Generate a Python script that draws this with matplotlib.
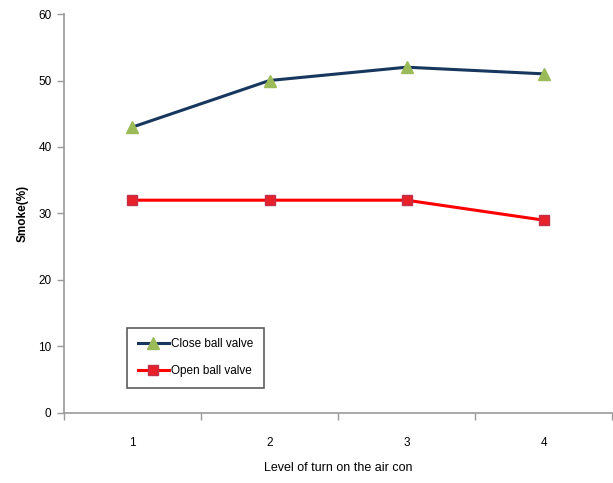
import matplotlib
matplotlib.use("Agg")
import matplotlib.pyplot as plt
from matplotlib.ticker import FixedLocator

levels = [1, 2, 3, 4]
level_labels = ["1", "2", "3", "4"]
close_valve = [43, 50, 52, 51]
open_valve = [32, 32, 32, 29]
y_ticks = [0, 10, 20, 30, 40, 50, 60]

plt.rcParams["font.family"] = ["Liberation Sans", "DejaVu Sans"]

fig = plt.figure(figsize=(6.13, 4.83), dpi=100)
ax = fig.add_axes([0.1044, 0.145, 0.894, 0.826])

ax.plot(levels, close_valve, color="#17375E", lw=2.2, marker="^", ms=8,
        markerfacecolor="#9BBB59", markeredgecolor="#9BBB59", label="Close ball valve", zorder=3)
ax.plot(levels, open_valve, color="#FF0000", lw=2.2, marker="s", ms=7,
        markerfacecolor="#E8202A", markeredgecolor="#C0304A", label="Open ball valve", zorder=3)

ax.set_xlim(0.5, 4.5)
ax.set_ylim(0, 60)
ax.set_yticks(y_ticks)
ax.set_xticks(levels)
ax.set_xticklabels(level_labels)
ax.xaxis.set_minor_locator(FixedLocator([0.5, 1.5, 2.5, 3.5, 4.5]))
ax.tick_params(axis="x", which="major", length=0, pad=17, labelsize=8.5)
ax.tick_params(axis="x", which="minor", length=5, color="#999999", width=1)
ax.tick_params(axis="y", length=5, color="#999999", width=1, labelsize=8.5, pad=4)

for side in ("top", "right"):
    ax.spines[side].set_visible(False)
for side in ("left", "bottom"):
    ax.spines[side].set_color("#999999")
    ax.spines[side].set_linewidth(1.2)

ax.set_ylabel("Smoke(%)", fontsize=8.5, fontweight="bold", labelpad=7)
ax.set_xlabel("Level of turn on the air con", fontsize=9, labelpad=10)

leg = ax.legend(loc="upper left", bbox_to_anchor=(0.105, 0.229), frameon=True,
                fancybox=False, edgecolor="#333333", fontsize=8.5,
                handlelength=2.6, labelspacing=1.3, borderpad=0.9, handletextpad=0.2)
leg.get_frame().set_linewidth(1.2)

fig.savefig("out.png", dpi=100)
